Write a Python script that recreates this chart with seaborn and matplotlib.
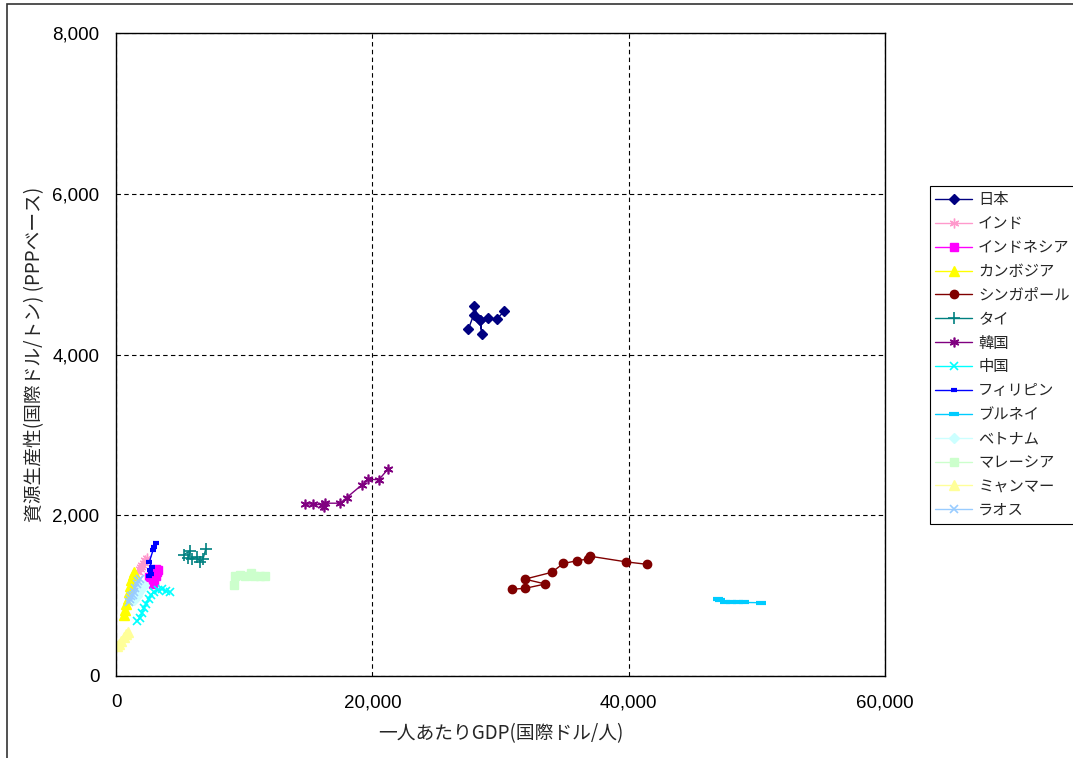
import matplotlib
matplotlib.use("Agg")
import matplotlib.pyplot as plt
from matplotlib.patches import Rectangle
from matplotlib.ticker import FuncFormatter, MultipleLocator
import pandas as pd
import seaborn as sns

# GDP per capita (intl $) and resource productivity (intl $/t, PPP) by country
japan_gdp = [27500, 27900, 27900, 28400, 28550, 28400, 29050, 29700, 30300]
japan_rp = [4320, 4490, 4600, 4430, 4260, 4430, 4450, 4440, 4540]

india_gdp = [1750, 1850, 1950, 2050, 2150, 2300, 2450]
india_rp = [1300, 1330, 1360, 1380, 1400, 1440, 1470]

indonesia_gdp = [2600, 2800, 3000, 3100, 2850, 2900, 3000, 3100, 3200, 3300]
indonesia_rp = [1230, 1280, 1300, 1330, 1200, 1150, 1180, 1250, 1300, 1320]

cambodia_gdp = [650, 700, 800, 900, 1000, 1100, 1200, 1300, 1400]
cambodia_rp = [760, 820, 890, 960, 1050, 1120, 1190, 1260, 1300]

singapore_gdp = [30900, 31900, 33500, 31900, 34000, 34900, 36000, 36800, 37000, 39800, 41400]
singapore_rp = [1080, 1090, 1145, 1205, 1290, 1400, 1435, 1455, 1490, 1420, 1390]

thailand_gdp = [5300, 5800, 5650, 5900, 6300, 6550, 6800, 7000]
thailand_rp = [1510, 1560, 1470, 1450, 1480, 1420, 1460, 1580]

korea_gdp = [14750, 15400, 16050, 16200, 16300, 17500, 18000, 19200, 19700, 20500, 21200]
korea_rp = [2140, 2140, 2130, 2100, 2150, 2150, 2220, 2380, 2450, 2440, 2570]

china_gdp = [1650, 1850, 2050, 2200, 2350, 2550, 2750, 2950, 3300, 3600, 3900, 4250]
china_rp = [680, 720, 790, 850, 900, 960, 1010, 1050, 1070, 1080, 1060, 1050]

philippines_gdp = [2550, 2700, 2650, 2800, 2600, 2900, 3000, 3100]
philippines_rp = [1240, 1270, 1320, 1360, 1420, 1570, 1610, 1650]

brunei_gdp = [47000, 47100, 47500, 48000, 48500, 49000, 50300]
brunei_rp = [960, 950, 925, 915, 915, 915, 912]

vietnam_gdp = [1400, 1500, 1600, 1700, 1800, 2000, 2200]
vietnam_rp = [950, 980, 1000, 1030, 1060, 1100, 1130]

malaysia_gdp = [9200, 9300, 9700, 10100, 10500, 10800, 11200, 11600]
malaysia_rp = [1130, 1250, 1260, 1250, 1280, 1240, 1250, 1250]

myanmar_gdp = [100, 250, 400, 600, 800, 950]
myanmar_rp = [370, 400, 440, 480, 520, 550]

laos_gdp = [1000, 1100, 1200, 1300, 1400, 1500, 1600, 1700, 1900]
laos_rp = [920, 960, 990, 1010, 1050, 1100, 1150, 1180, 1210]

countries = ["日本", "インド", "インドネシア", "カンボジア", "シンガポール", "タイ", "韓国",
             "中国", "フィリピン", "ブルネイ", "ベトナム", "マレーシア", "ミャンマー", "ラオス"]
gdp_series = [japan_gdp, india_gdp, indonesia_gdp, cambodia_gdp, singapore_gdp, thailand_gdp,
              korea_gdp, china_gdp, philippines_gdp, brunei_gdp, vietnam_gdp, malaysia_gdp,
              myanmar_gdp, laos_gdp]
rp_series = [japan_rp, india_rp, indonesia_rp, cambodia_rp, singapore_rp, thailand_rp,
             korea_rp, china_rp, philippines_rp, brunei_rp, vietnam_rp, malaysia_rp,
             myanmar_rp, laos_rp]

# Line colour, marker, marker size and marker edge width per series
styles = {
    "日本": ("#000080", "D", 5, 1.0),
    "インド": ("#FF99CC", (6, 2, 0), 7, 1.0),
    "インドネシア": ("#FF00FF", "s", 5.5, 1.0),
    "カンボジア": ("#FFFF00", "^", 6.5, 1.0),
    "シンガポール": ("#800000", "o", 6, 1.0),
    "タイ": ("#008080", "+", 8, 1.2),
    "韓国": ("#800080", (6, 2, 0), 7, 1.2),
    "中国": ("#00FFFF", "x", 6, 1.2),
    "フィリピン": ("#0000FF", "_", 4, 3.0),
    "ブルネイ": ("#00CCFF", "_", 7, 3.0),
    "ベトナム": ("#CCFFFF", "D", 5, 1.0),
    "マレーシア": ("#CCFFCC", "s", 5.5, 1.0),
    "ミャンマー": ("#FFFF99", "^", 6.5, 1.0),
    "ラオス": ("#99CCFF", "x", 6, 1.2),
}

sns.set_theme(style="white")
plt.rcParams["font.family"] = ["Liberation Sans", "Noto Sans CJK JP", "DejaVu Sans"]

fig = plt.figure(figsize=(10.73, 7.58), dpi=100)
ax = fig.add_axes([116 / 1073, 1 - 676 / 758, (885 - 116) / 1073, (676 - 33) / 758])

for name, xs, ys in zip(countries, gdp_series, rp_series):
    df = pd.DataFrame({"gdp": xs, "rp": ys})
    color, marker, ms, mew = styles[name]
    sns.lineplot(data=df, x="gdp", y="rp", sort=False, estimator=None, ax=ax,
                 color=color, marker=marker, markersize=ms, markeredgewidth=mew,
                 markeredgecolor=color, markerfacecolor=color, linewidth=1.0,
                 label=name)

ax.set_xlim(0, 60000)
ax.set_ylim(0, 8000)
ax.xaxis.set_major_locator(MultipleLocator(20000))
ax.yaxis.set_major_locator(MultipleLocator(2000))
fmt = FuncFormatter(lambda v, p: f"{int(v):,}")
ax.xaxis.set_major_formatter(fmt)
ax.yaxis.set_major_formatter(fmt)
ax.tick_params(axis="both", which="major", length=0, labelsize=13.5, colors="black")
ax.tick_params(axis="x", pad=13)
ax.tick_params(axis="y", pad=12)

ax.grid(True, color="black", linestyle=(0, (4, 3)), linewidth=0.8)
for s in ax.spines.values():
    s.set_color("black")
    s.set_linewidth(1.0)

ax.set_xlabel("一人あたりGDP(国際ドル/人)", fontsize=13.5, labelpad=9,
              family=["Noto Sans CJK JP", "DejaVu Sans"])
ax.set_ylabel("資源生産性(国際ドル/トン) (PPPベース)", fontsize=13.5, labelpad=5,
              family=["Noto Sans CJK JP", "DejaVu Sans"])

leg = ax.legend(loc="upper left", bbox_to_anchor=(930 / 1073, 1 - 186 / 758),
                bbox_transform=fig.transFigure, borderaxespad=0, frameon=True,
                fancybox=False, shadow=False, handlelength=2.4,
                handletextpad=0.4, labelspacing=0.45, borderpad=0.35,
                prop={"family": ["Noto Sans CJK JP", "DejaVu Sans"], "size": 11})
leg.get_frame().set_edgecolor("black")
leg.get_frame().set_linewidth(0.8)
leg.get_frame().set_alpha(1)

# chart area border
fig.patches.append(Rectangle((7 / 1073, -0.05), 1.2, 1 - 4 / 758 + 0.05,
                             transform=fig.transFigure, fill=False,
                             edgecolor="#333333", linewidth=1.2))

fig.savefig("out.png", dpi=100)
